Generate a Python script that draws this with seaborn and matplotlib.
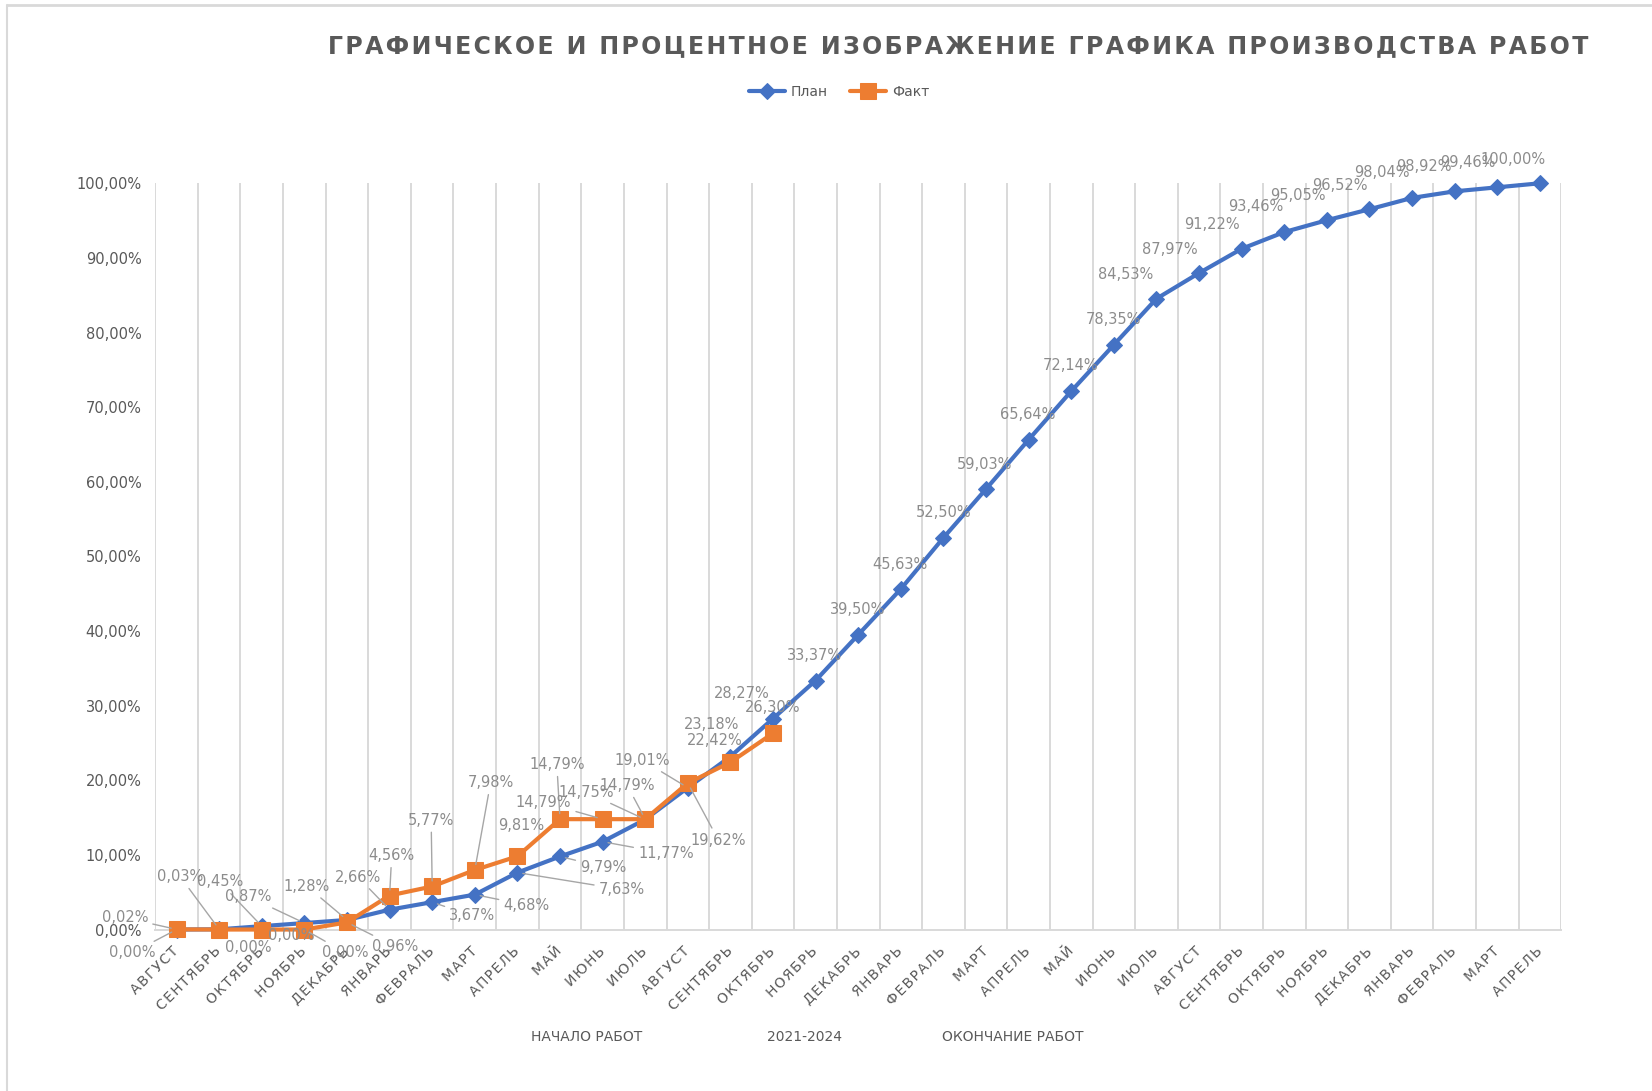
import numpy as np
import pandas as pd
import matplotlib
matplotlib.use("Agg")
import matplotlib.pyplot as plt
import seaborn as sns

# ---------------- data ----------------
months = ["АВГУСТ", "СЕНТЯБРЬ", "ОКТЯБРЬ", "НОЯБРЬ", "ДЕКАБРЬ", "ЯНВАРЬ", "ФЕВРАЛЬ",
          "МАРТ", "АПРЕЛЬ", "МАЙ", "ИЮНЬ", "ИЮЛЬ",
          "АВГУСТ", "СЕНТЯБРЬ", "ОКТЯБРЬ", "НОЯБРЬ", "ДЕКАБРЬ", "ЯНВАРЬ", "ФЕВРАЛЬ",
          "МАРТ", "АПРЕЛЬ", "МАЙ", "ИЮНЬ", "ИЮЛЬ",
          "АВГУСТ", "СЕНТЯБРЬ", "ОКТЯБРЬ", "НОЯБРЬ", "ДЕКАБРЬ", "ЯНВАРЬ", "ФЕВРАЛЬ",
          "МАРТ", "АПРЕЛЬ"]
plan = [0.00, 0.03, 0.45, 0.87, 1.28, 2.66, 3.67, 4.68, 7.63, 9.79, 11.77, 14.75,
        19.01, 23.18, 28.27, 33.37, 39.50, 45.63, 52.50, 59.03, 65.64, 72.14,
        78.35, 84.53, 87.97, 91.22, 93.46, 95.05, 96.52, 98.04, 98.92, 99.46, 100.00]
fact = [0.02, 0.00, 0.00, 0.00, 0.96, 4.56, 5.77, 7.98, 9.81, 14.79, 14.79, 14.79,
        19.62, 22.42, 26.30]
series_names = ["План", "Факт"]
title = "ГРАФИЧЕСКОЕ И ПРОЦЕНТНОЕ ИЗОБРАЖЕНИЕ ГРАФИКА ПРОИЗВОДСТВА РАБОТ"
bottom_notes = ["НАЧАЛО РАБОТ", "2021-2024", "ОКОНЧАНИЕ РАБОТ"]

# label placement (screen pixel offsets, x right / y down)
plan_off = [(-42, 22), (-37, -50), (-40, -42), (-53, -25), (-38, -32), (-30, -31),
            (38, 13), (49, 10), (99, 16), (41, 10), (60, 11), (-56, -26),
            (-43, -26), (-18, -30), (-30, -24), (-1, -24), (-1, -24), (-1, -23),
            (0, -24), (-1, -23), (-1, -24), (-1, -24), (0, -24), (-29, -23),
            (-28, -22), (-28, -23), (-27, -24), (-27, -23), (-28, -23), (-29, -24),
            (-29, -24), (-28, -24), (-25, -23)]
fact_off = [(-49, -11), (28, 17), (28, 6), (39, 22), (46, 23), (2, -38), (-1, -63),
            (15, -83), (4, -29), (-3, -52), (-56, -16), (-17, -32), (29, 54),
            (-15, -21), (0, -24)]

# ---------------- style ----------------
sns.set_theme(style="white")
plt.rcParams['font.family'] = ['DejaVu Sans']

C_PLAN = "#4472C4"
C_FACT = "#ED7D31"
GRID = "#d9d9d9"
TXT = "#595959"
LBL = "#8c8c8c"

fig = plt.figure(figsize=(16.52, 10.91), dpi=100)
ax = fig.add_axes([0.094, 0.148, 0.851, 0.684])

df_plan = pd.DataFrame({"x": np.arange(len(plan)), "y": plan})
df_fact = pd.DataFrame({"x": np.arange(len(fact)), "y": fact})

sns.lineplot(data=df_plan, x="x", y="y", ax=ax, color=C_PLAN, lw=3.0, marker="D",
             markersize=8, markeredgecolor=C_PLAN, label=series_names[0],
             clip_on=False, zorder=3)
sns.lineplot(data=df_fact, x="x", y="y", ax=ax, color=C_FACT, lw=3.0, marker="s",
             markersize=11, markeredgecolor=C_FACT, label=series_names[1],
             clip_on=False, zorder=4)

ax.set_xlim(-0.5, len(months) - 0.5)
ax.set_ylim(0, 100)

# y axis
yt = np.arange(0, 101, 10)
ax.set_yticks(yt)
ax.set_yticklabels([f"{v:.2f}%".replace(".", ",") for v in yt], color=TXT, fontsize=10.5)

# x axis
spaced = ["\u200a".join(m) for m in months]
ax.set_xticks(np.arange(len(months)))
ax.set_xticklabels(spaced, rotation=45, ha="right", va="center",
                   rotation_mode="anchor", color=TXT, fontsize=10)
ax.set_xticks(np.arange(-0.5, len(months), 1), minor=True)
ax.tick_params(axis="both", which="both", length=0)
ax.tick_params(axis="x", which="major", pad=14)
ax.tick_params(axis="y", pad=10)
ax.grid(False)
ax.grid(which="minor", axis="x", color=GRID, lw=1.4)
ax.set_xlabel("")
ax.set_ylabel("")
for s in ["top", "right", "left"]:
    ax.spines[s].set_visible(False)
ax.spines["bottom"].set_color(GRID)
ax.spines["bottom"].set_linewidth(1.4)

# data labels
S = 1.054


def put_labels(vals, offs):
    for i, (v, (dx, dy)) in enumerate(zip(vals, offs)):
        txt = f"{v:.2f}%".replace(".", ",")
        far = np.hypot(dx, dy) > 40 or (v < 20 and np.hypot(dx, dy) > 33)
        ax.annotate(txt, xy=(i, v), xytext=(dx * S, -dy * S), textcoords="offset pixels",
                    ha="center", va="center", fontsize=10.5, color=LBL, zorder=6,
                    annotation_clip=False,
                    arrowprops=(dict(arrowstyle="-", color="#a6a6a6", lw=1.0,
                                     shrinkA=1, shrinkB=4) if far else None))


put_labels(plan, plan_off)
put_labels(fact, fact_off)

# legend
leg = ax.legend(loc="center", bbox_to_anchor=(0.508, 0.916), bbox_transform=fig.transFigure,
                ncol=2, frameon=False, fontsize=10, handlelength=2.6, columnspacing=1.6,
                handletextpad=0.4)
for t in leg.get_texts():
    t.set_color(TXT)

# title
fig.text(0.58, 0.958, "\u200a".join(title), ha="center", va="center", fontsize=17,
         fontweight="bold", color=TXT)

# bottom notes
for xf, note in zip([0.355, 0.487, 0.613], bottom_notes):
    fig.text(xf, 0.0495, note, ha="center", va="center", fontsize=10, color=TXT)

# chart area border (top and left edges visible)
fig.add_artist(plt.Line2D([0.004, 1.0], [0.9955, 0.9955], transform=fig.transFigure,
                          color=GRID, lw=2))
fig.add_artist(plt.Line2D([0.0045, 0.0045], [0.0, 0.9955], transform=fig.transFigure,
                          color=GRID, lw=1.5))

fig.savefig("out.png", dpi=100)
